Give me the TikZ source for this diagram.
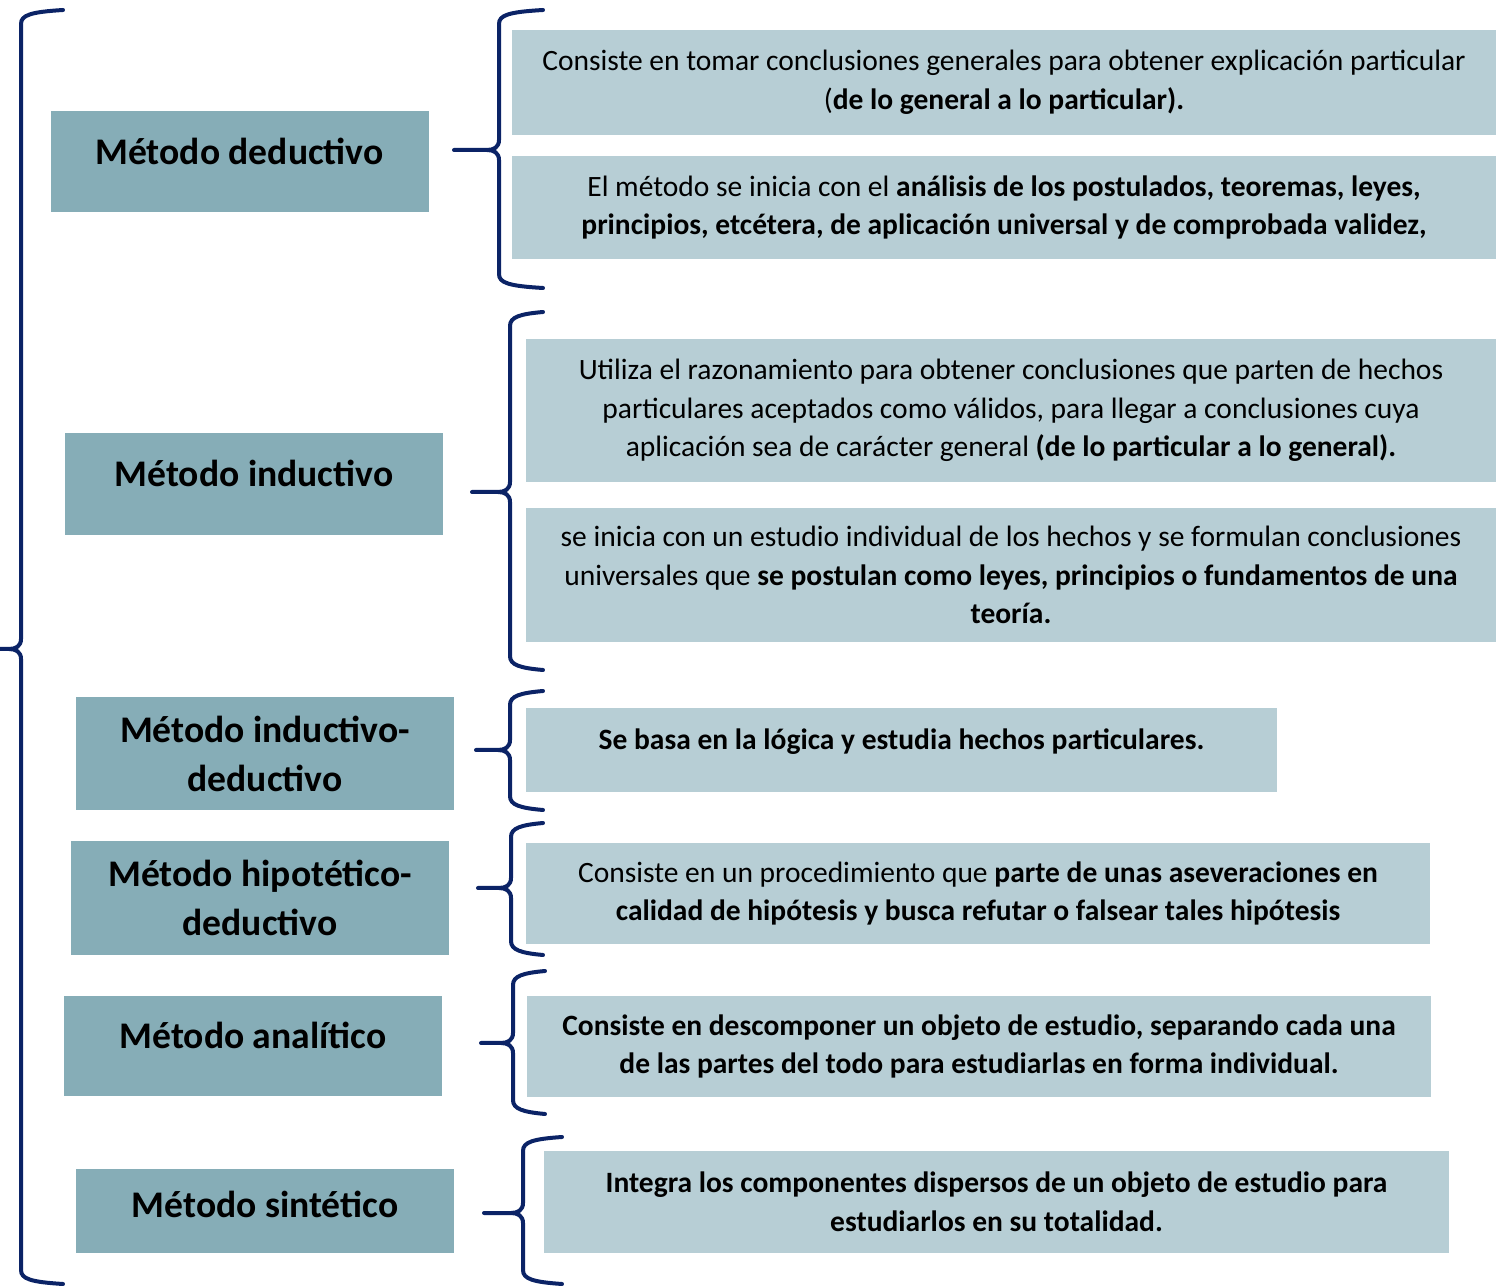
\documentclass[tikz,border=0pt]{standalone}
\usepackage{fontspec}
\setmainfont{Carlito}
\usepackage{tikz}
\usetikzlibrary{positioning}

\definecolor{azuloscuro}{HTML}{86ADB7}
\definecolor{azulclaro}{HTML}{B7CED5}
\definecolor{marino}{HTML}{0B2366}

% texto subido sin cambiar la caja
\newcommand{\subir}[2]{\raisebox{#1}[\height][\depth]{#2}}

\begin{document}
\begin{tikzpicture}[x=0.5pt, y=-0.5pt,
    metodo/.style={fill=azuloscuro, minimum width=189pt, inner sep=0pt, align=center,
      font=\bfseries\fontsize{18.8}{24.5}\selectfont},
    desc/.style={fill=azulclaro, inner sep=0pt, align=center,
      font=\fontsize{14.75}{19.25}\selectfont},
    llave/.style={draw=marino, line width=2pt, line cap=round}]
  \useasboundingbox (0,0) rectangle (1496,1288);

  % Cajas de los métodos
  \node[metodo, minimum height=50.5pt] (ded) at (239.5,161.5) {\subir{5pt}{Método deductivo}};
  \node[metodo, minimum height=51pt] (ind) at (254,484) {\subir{5.5pt}{Método inductivo}};
  \node[metodo, minimum height=56.5pt] (inded) at (265,753.5) {Método inductivo-\\deductivo};
  \node[metodo, minimum height=57pt] (hip) at (260,898) {Método hipotético-\\deductivo};
  \node[metodo, minimum height=50pt] (ana) at (253,1046) {\subir{5.5pt}{Método analítico}};
  \node[metodo, minimum height=42pt] (sin) at (265,1211) {\subir{3.5pt}{Método sintético}};

  % Descripciones
  \node[desc, minimum width=492pt, minimum height=52.5pt] (ded1) at (1004,82.5)
    {Consiste en tomar conclusiones generales para obtener explicación particular\\
     (\textbf{de lo general a lo particular).}};
  \node[desc, minimum width=492pt, minimum height=51.5pt] (ded2) at (1004,207.5)
    {El método se inicia con el \textbf{análisis de los postulados, teoremas, leyes,}\\
     \textbf{principios, etcétera, de aplicación universal y de comprobada validez,}};
  \node[desc, minimum width=485pt, minimum height=71.5pt] (ind1) at (1011,410.5)
    {Utiliza el razonamiento para obtener conclusiones que parten de hechos\\
     particulares aceptados como válidos, para llegar a conclusiones cuya\\
     aplicación sea de carácter general \textbf{(de lo particular a lo general).}};
  \node[desc, minimum width=485pt, minimum height=67pt] (ind2) at (1011,575)
    {se inicia con un estudio individual de los hechos y se formulan conclusiones\\
     universales que \textbf{se postulan como leyes, principios o fundamentos de una}\\
     \textbf{teoría.}};
  \node[desc, minimum width=375.5pt, minimum height=42pt] (inded1) at (901.5,750)
    {\subir{4pt}{\textbf{Se basa en la lógica y estudia hechos particulares.}}};
  \node[desc, minimum width=452pt, minimum height=50.5pt] (hip1) at (978,893.5)
    {Consiste en un procedimiento que \textbf{parte de unas aseveraciones en}\\
     \textbf{calidad de hipótesis y busca refutar o falsear tales hipótesis}};
  \node[desc, minimum width=452pt, minimum height=50.5pt] (ana1) at (979,1046.5)
    {\textbf{Consiste en descomponer un objeto de estudio, separando cada una}\\
     \textbf{de las partes del todo para estudiarlas en forma individual.}};
  \node[desc, minimum width=452.5pt, minimum height=51pt] (sin1) at (996.5,1202)
    {\textbf{Integra los componentes dispersos de un objeto de estudio para}\\
     \textbf{estudiarlos en su totalidad.}};

  % Llaves: x vertical / arriba / abajo / y punta / x punta / x extremos
  \foreach \vx/\ya/\yb/\yt/\xt/\xe in {21/10/1284/649/0/63, 499/10/288/150/454/543,
      510/312/670/492/472/543, 510/691/810/750/476/543, 511/823/955/888/478/543,
      513/971/1114/1043/481/545, 523/1137/1284/1213/484/562} {
    \draw[llave] (\xe,\ya) .. controls (\vx+10,\ya+2) and (\vx,\ya+5) .. (\vx,\ya+14)
      -- (\vx,\yt-10) .. controls (\vx,\yt-3) and (\vx-5,\yt) .. (\vx-12,\yt) -- (\xt,\yt)
      (\vx-12,\yt) .. controls (\vx-5,\yt) and (\vx,\yt+3) .. (\vx,\yt+10)
      -- (\vx,\yb-14) .. controls (\vx,\yb-5) and (\vx+10,\yb-2) .. (\xe,\yb);
  }
\end{tikzpicture}
\end{document}
